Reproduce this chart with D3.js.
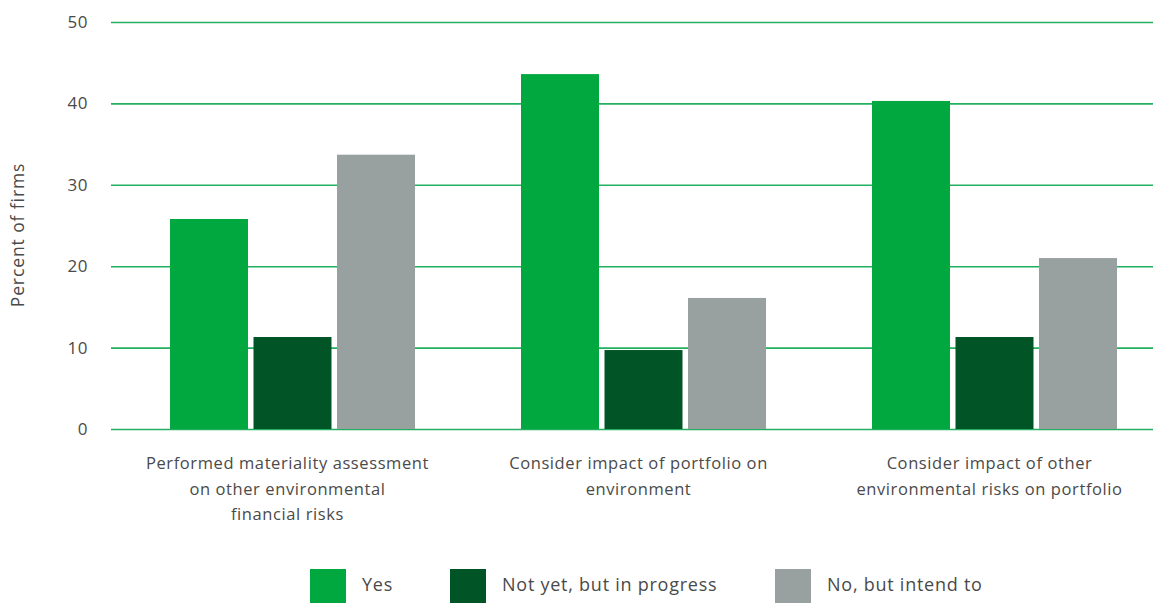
<!DOCTYPE html>
<html>
<head>
<meta charset="utf-8">
<script src="https://cdn.jsdelivr.net/npm/d3@7"></script>
<style>
  html, body { margin: 0; padding: 0; background: #fff; }
  svg { display: block; }
  text { font-family: "Open Sans", "Noto Sans", sans-serif; fill: #4a4a4a; }
</style>
</head>
<body>
<svg id="chart" width="1153" height="603"></svg>
<script>
// Survey responses, percent of firms
const categories = [
  ["Performed materiality assessment", "on other environmental", "financial risks"],
  ["Consider impact of portfolio on", "environment"],
  ["Consider impact of other", "environmental risks on portfolio"]
];
const seriesNames = ["Yes", "Not yet, but in progress", "No, but intend to"];
const yesValues = [25.8, 43.6, 40.3];
const inProgressValues = [11.3, 9.7, 11.3];
const intendValues = [33.7, 16.1, 21.0];
const yTicks = [0, 10, 20, 30, 40, 50];
const colors = ["#00a83f", "#005426", "#98a0a0"];

const seriesValues = [yesValues, inProgressValues, intendValues];
const rows = categories.map((c, i) => ({
  key: i,
  lines: c,
  values: seriesValues.map((s, j) => ({ series: j, value: s[i] }))
}));

const svg = d3.select("#chart");
const gridLeft = 111, gridRight = 1153;

const y = d3.scaleLinear().domain([0, 50]).range([429, 22]);

const x0 = d3.scaleBand()
  .domain(rows.map(d => d.key))
  .range([117, 1170])
  .paddingInner(0.302)
  .paddingOuter(0.151);

const x1 = d3.scaleBand()
  .domain(d3.range(seriesNames.length))
  .range([0, x0.bandwidth()])
  .paddingInner(0.066)
  .paddingOuter(0);

// Horizontal gridlines with value labels
const yAxis = d3.axisLeft(y)
  .tickValues(yTicks)
  .tickSize(-(gridRight - gridLeft))
  .tickPadding(23)
  .tickFormat(d3.format("d"));

const ga = svg.append("g")
  .attr("transform", `translate(${gridLeft},0)`)
  .call(yAxis);
ga.select(".domain").remove();
ga.selectAll(".tick line")
  .attr("stroke", "#22b060")
  .attr("stroke-width", 1.6);
ga.selectAll(".tick text")
  .attr("font-size", 17)
  .attr("letter-spacing", 0.5)
  .attr("fill", "#4a4a4a");

// Bars
const groups = svg.append("g").selectAll("g")
  .data(rows)
  .join("g")
  .attr("transform", d => `translate(${x0(d.key)},0)`);

groups.selectAll("rect")
  .data(d => d.values)
  .join("rect")
  .attr("x", d => x1(d.series))
  .attr("y", d => y(d.value))
  .attr("width", x1.bandwidth())
  .attr("height", d => y(0) - y(d.value))
  .attr("fill", d => colors[d.series]);

// Category labels (multi-line)
const catLabels = svg.append("g").selectAll("text")
  .data(rows)
  .join("text")
  .attr("x", d => x0(d.key) + x0.bandwidth() / 2 - 5)
  .attr("y", 469)
  .attr("text-anchor", "middle")
  .attr("font-size", 16.5)
  .attr("letter-spacing", 0.6);
catLabels.selectAll("tspan")
  .data(d => d.lines)
  .join("tspan")
  .attr("x", function() { return d3.select(this.parentNode).attr("x"); })
  .attr("dy", (d, i) => i === 0 ? 0 : 25.5)
  .text(d => d);

// Y-axis title
svg.append("text")
  .attr("transform", "translate(24,235) rotate(-90)")
  .attr("text-anchor", "middle")
  .attr("font-size", 17.5)
  .attr("letter-spacing", 0.9)
  .text("Percent of firms");

// Legend
const legendX = [310, 450, 775];
const legend = svg.append("g").selectAll("g")
  .data(seriesNames)
  .join("g")
  .attr("transform", (d, i) => `translate(${legendX[i]},569)`);
legend.append("rect")
  .attr("width", 36)
  .attr("height", 36)
  .attr("fill", (d, i) => colors[i]);
legend.append("text")
  .attr("x", 52)
  .attr("y", 22)
  .attr("font-size", 18)
  .attr("letter-spacing", 0.75)
  .text(d => d);
</script>
</body>
</html>
